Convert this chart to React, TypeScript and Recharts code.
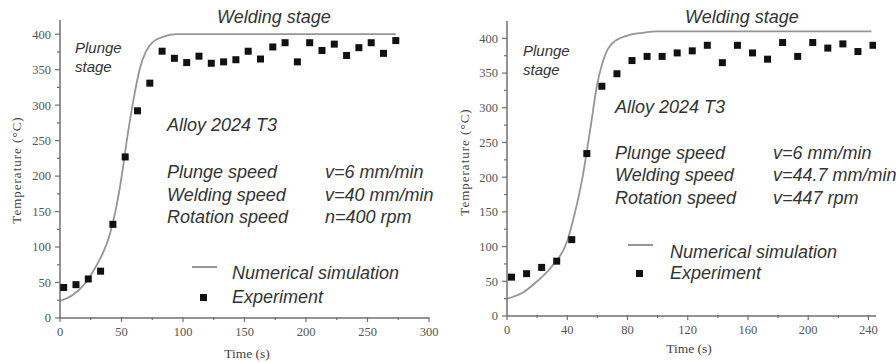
import { ComposedChart, Line, Scatter, XAxis, YAxis } from 'recharts'

// left panel: welding speed 40 mm/min
const simTimeA = [0, 10, 20, 30, 35, 40, 45, 50, 55, 60, 65, 70, 75, 85, 95, 273]
const simTempA = [24, 32, 48, 75, 92, 115, 150, 198, 258, 310, 352, 376, 388, 397, 400, 400]
const expTimeA = [3, 13, 23, 33, 43, 53, 63, 73, 83, 93, 103, 113, 123, 133, 143, 153, 163, 173, 183, 193, 203, 213, 223, 233, 243, 253, 263, 273]
const expTempA = [43, 47, 55, 66, 132, 227, 292, 331, 376, 366, 360, 369, 359, 361, 364, 376, 365, 382, 388, 361, 388, 377, 386, 370, 381, 388, 373, 391]
const xTicksA = [0, 25, 50, 75, 100, 125, 150, 175, 200, 225, 250, 275, 300]

// right panel: welding speed 44.7 mm/min
const simTimeB = [0, 10, 20, 30, 40, 45, 50, 55, 60, 65, 70, 80, 90, 100, 242]
const simTempB = [25, 33, 50, 72, 108, 148, 198, 265, 335, 375, 393, 404, 408, 410, 410]
const expTimeB = [3, 13, 23, 33, 43, 53, 63, 73, 83, 93, 103, 113, 123, 133, 143, 153, 163, 173, 183, 193, 203, 213, 223, 233, 243]
const expTempB = [56, 61, 70, 79, 110, 234, 331, 349, 368, 374, 374, 379, 382, 390, 365, 390, 379, 370, 394, 374, 394, 386, 392, 381, 390]
const xTicksB = [0, 20, 40, 60, 80, 100, 120, 140, 160, 180, 200, 220, 240]

const yTicks = [0, 25, 50, 75, 100, 125, 150, 175, 200, 225, 250, 275, 300, 325, 350, 375, 400]

const AXIS = '#707070'
const TICKTXT = '#555'
const SIM = '#959595'
const SANS = '"Liberation Sans", Arial, sans-serif'
const SERIF = '"Liberation Serif", "Times New Roman", serif'
const INK = '#333'

const pairs = (ts: number[], vs: number[]) => ts.map((t, i) => ({ t, T: vs[i] }))

function XTick({ x, y, payload, step }: any) {
  const major = payload.value % step === 0
  return (
    <g>
      <line x1={x} x2={x} y1={y - 1} y2={y + (major ? 4 : 2)} stroke={AXIS} strokeWidth={1.2} />
      {major && (
        <text x={x} y={y + 14} dy="0.35em" textAnchor="middle" fontFamily={SERIF} fontSize={12.5} fill={TICKTXT}>
          {payload.value}
        </text>
      )}
    </g>
  )
}

function YTick({ x, y, payload }: any) {
  const major = payload.value % 50 === 0
  return (
    <g>
      <line x1={x - (major ? 5 : 3)} x2={x} y1={y} y2={y} stroke={AXIS} strokeWidth={1.2} />
      {major && (
        <text x={x - 9} y={y} dy="0.35em" textAnchor="end" fontFamily={SERIF} fontSize={12.5} fill={TICKTXT}>
          {payload.value}
        </text>
      )}
    </g>
  )
}

const Square = (p: any) => <rect x={p.cx - 3.5} y={p.cy - 3.5} width={7} height={7} fill="#111" />

function Panel({ left, width, margin, yWidth, xMax, yMax, xTicks, xStep, sim, exp }: any) {
  return (
    <div style={{ position: 'absolute', left, top: 0 }}>
      <ComposedChart width={width} height={363} margin={margin}>
        <XAxis type="number" dataKey="t" domain={[0, xMax]} ticks={xTicks} interval={0} height={30}
          tickSize={0} tickMargin={0} tickLine={false} axisLine={{ stroke: AXIS, strokeWidth: 1.5 }}
          tick={(p: any) => <XTick {...p} step={xStep} />} allowDataOverflow />
        <YAxis type="number" domain={[0, yMax]} ticks={yTicks} interval={0} width={yWidth}
          tickSize={0} tickMargin={0} tickLine={false} axisLine={{ stroke: AXIS, strokeWidth: 1.5 }}
          tick={(p: any) => <YTick {...p} />} allowDataOverflow />
        <Line data={sim} dataKey="T" type="monotone" stroke={SIM} strokeWidth={1.8} dot={false} isAnimationActive={false} />
        <Scatter data={exp} dataKey="T" shape={Square} isAnimationActive={false} />
      </ComposedChart>
    </div>
  )
}

function Txt({ x, y, size = 18, children }: any) {
  return (
    <div style={{ position: 'absolute', left: x, top: y, fontFamily: SANS, fontStyle: 'italic', fontSize: size, lineHeight: 1, color: INK, whiteSpace: 'nowrap' }}>
      {children}
    </div>
  )
}

function VLabel({ cx, cy }: any) {
  return (
    <div style={{ position: 'absolute', left: cx, top: cy, transform: 'translate(-50%, -50%) rotate(-90deg)', fontFamily: SERIF, fontSize: 13, letterSpacing: 1, color: '#444', whiteSpace: 'nowrap' }}>
      Temperature (°C)
    </div>
  )
}

function HLabel({ cx, cy }: any) {
  return (
    <div style={{ position: 'absolute', left: cx, top: cy, transform: 'translate(-50%, -50%)', fontFamily: SERIF, fontSize: 13.5, color: '#444', whiteSpace: 'nowrap' }}>
      Time (s)
    </div>
  )
}

export default function App() {
  return (
    <div style={{ position: 'absolute', left: 0, top: 0, width: 896, height: 363, background: '#fff', overflow: 'hidden' }}>
      <Panel left={0} width={440} margin={{ top: 20, right: 11, bottom: 15, left: 10 }} yWidth={50}
        xMax={300} yMax={420} xTicks={xTicksA} xStep={50}
        sim={pairs(simTimeA, simTempA)} exp={pairs(expTimeA, expTempA)} />
      <Panel left={448} width={448} margin={{ top: 21, right: 20, bottom: 17, left: 10 }} yWidth={49}
        xMax={245} yMax={425} xTicks={xTicksB} xStep={40}
        sim={pairs(simTimeB, simTempB)} exp={pairs(expTimeB, expTempB)} />

      <VLabel cx={17} cy={170} />
      <VLabel cx={465} cy={162} />
      <HLabel cx={247} cy={354} />
      <HLabel cx={689} cy={349} />

      {/* left panel text */}
      <Txt x={217} y={8}>Welding stage</Txt>
      <Txt x={75} y={40} size={15}>Plunge</Txt>
      <Txt x={75} y={59} size={15}>stage</Txt>
      <Txt x={167} y={116}>Alloy 2024 T3</Txt>
      <Txt x={167} y={163}>Plunge speed</Txt>
      <Txt x={325} y={163}>v=6 mm/min</Txt>
      <Txt x={167} y={186}>Welding speed</Txt>
      <Txt x={325} y={186}>v=40 mm/min</Txt>
      <Txt x={167} y={208}>Rotation speed</Txt>
      <Txt x={325} y={208}>n=400 rpm</Txt>
      <div style={{ position: 'absolute', left: 192, top: 266, width: 25, height: 1.5, background: SIM }} />
      <Txt x={232} y={264}>Numerical simulation</Txt>
      <div style={{ position: 'absolute', left: 199.5, top: 293.5, width: 7, height: 7, background: '#111' }} />
      <Txt x={232} y={288}>Experiment</Txt>

      {/* right panel text */}
      <Txt x={685} y={8}>Welding stage</Txt>
      <Txt x={523} y={43} size={15}>Plunge</Txt>
      <Txt x={523} y={62} size={15}>stage</Txt>
      <Txt x={615} y={98}>Alloy 2024 T3</Txt>
      <Txt x={615} y={144}>Plunge speed</Txt>
      <Txt x={773} y={144}>v=6 mm/min</Txt>
      <Txt x={615} y={166}>Welding speed</Txt>
      <Txt x={773} y={166}>v=44.7 mm/min</Txt>
      <Txt x={615} y={189}>Rotation speed</Txt>
      <Txt x={773} y={189}>v=447 rpm</Txt>
      <div style={{ position: 'absolute', left: 628, top: 244, width: 25, height: 1.5, background: SIM }} />
      <Txt x={670} y={243}>Numerical simulation</Txt>
      <div style={{ position: 'absolute', left: 635.5, top: 269.5, width: 7, height: 7, background: '#111' }} />
      <Txt x={670} y={264}>Experiment</Txt>
    </div>
  )
}
